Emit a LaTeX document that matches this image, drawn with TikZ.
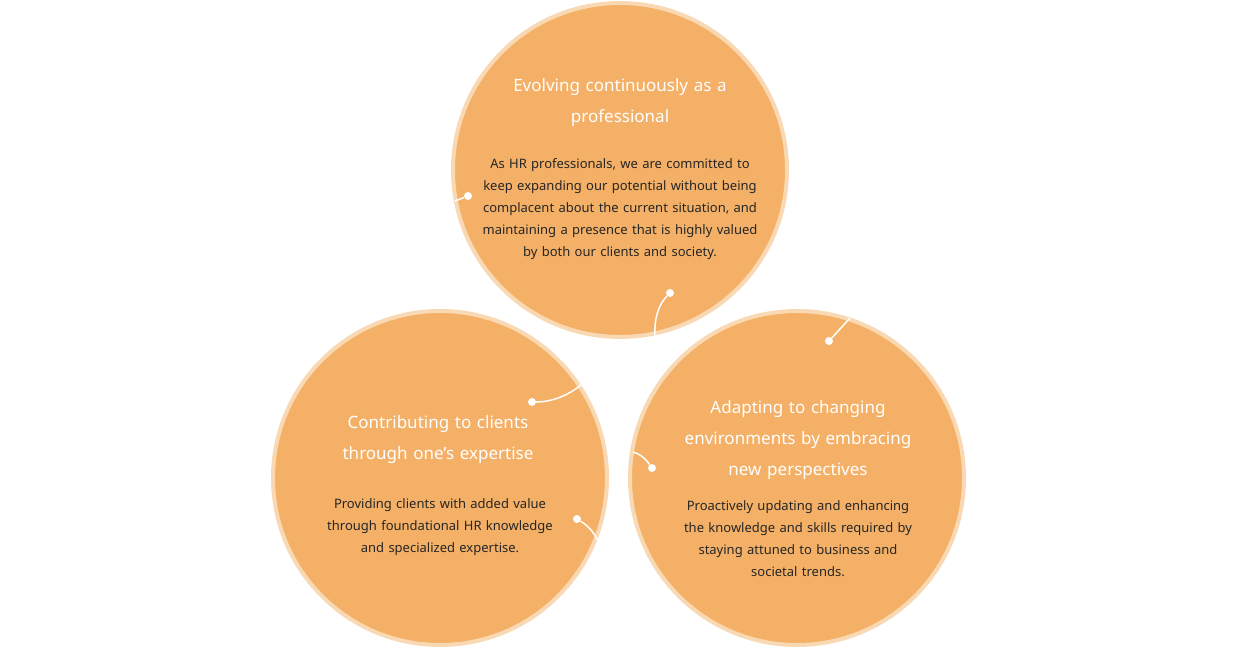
\documentclass[tikz,border=0pt]{standalone}
\usepackage{fontspec}
\setmainfont{Noto Sans}
\begin{document}
\begin{tikzpicture}[x=1pt,y=-1pt,
  circ/.style={circle,fill=orfill,draw=orrim,line width=4pt,minimum size=334pt,inner sep=0pt},
  ttl/.style={text=white,font=\fontsize{17}{31}\selectfont,align=center,text width=250pt},
  body/.style={text=black!85,font=\fontsize{13}{22}\selectfont,align=center,text width=290pt},
  conn/.style={white,line width=1.5pt},
  dot/.style={circle,fill=white,inner sep=0pt,minimum size=8pt}]
\definecolor{orfill}{HTML}{F4B066}
\definecolor{orrim}{HTML}{F9D9B3}
\useasboundingbox (0,0) rectangle (1240,650);
\node[circ] (c1) at (620,170) {};
\node[circ] (c2) at (440,478) {};
\node[circ] (c3) at (797,478) {};
\node[ttl] (t1) at (620,103) {Evolving continuously as a\\professional};
\node[body] (b1) at (620,209) {As HR professionals, we are committed to\\keep expanding our potential without being\\complacent about the current situation, and\\maintaining a presence that is highly valued\\by both our clients and society.};
\node[ttl] (t2) at (438,440) {Contributing to clients\\through one's expertise};
\node[body] (b2) at (440,527) {Providing clients with added value\\through foundational HR knowledge\\and specialized expertise.};
\node[ttl] (t3) at (798,440) {Adapting to changing\\environments by embracing\\new perspectives};
\node[body] (b3) at (798,539) {Proactively updating and enhancing\\the knowledge and skills required by\\staying attuned to business and\\societal trends.};
\node[dot] (d1) at (468,196) {};
\coordinate (e1) at (455,201);
\draw[conn] (d1) -- (e1);
\node[dot] (d2) at (670,293) {};
\coordinate (e2) at (655,336);
\draw[conn] (d2) .. controls (658,305) and (654,320) .. (e2);
\node[dot] (d3) at (829,341) {};
\coordinate (e3) at (850,318);
\draw[conn] (d3) -- (e3);
\node[dot] (d4) at (652,468) {};
\coordinate (e4) at (633,452);
\draw[conn] (d4) .. controls (645,458) and (640,454) .. (e4);
\node[dot] (d5) at (532,402) {};
\coordinate (e5) at (583,383);
\draw[conn] (d5) .. controls (552,402) and (570,395) .. (e5);
\node[dot] (d6) at (577,519) {};
\coordinate (e6) at (598,541);
\draw[conn] (d6) .. controls (587,525) and (594,532) .. (e6);
\end{tikzpicture}
\end{document}
